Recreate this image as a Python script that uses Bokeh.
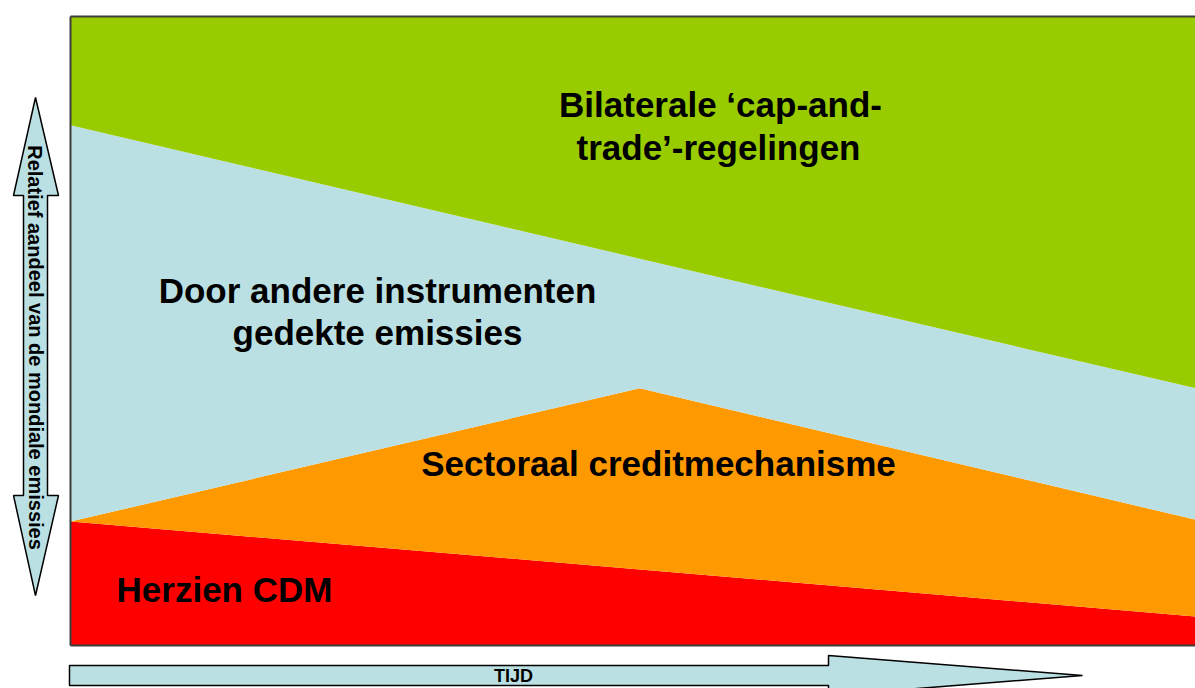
from bokeh.plotting import figure
from bokeh.models import Range1d, ColumnDataSource
from bokeh.core.properties import value
from bokeh.embed import file_html
from bokeh.resources import INLINE

# ---- data (relative share of global emissions over time, 0..1) ----
time = [0.0, 0.506, 1.0]
herzien_cdm = [0.197, 0.121, 0.046]
sectoraal = [0.0, 0.288, 0.154]
andere = [0.630, 0.206, 0.209]
bilaterale = [0.173, 0.385, 0.591]

layer_names = ["herzien_cdm", "sectoraal", "andere", "bilaterale"]
layer_colors = ["#FF0000", "#FF9900", "#BBE0E3", "#99CC00"]

labels = [
    "Bilaterale \u2018cap-and-", "trade\u2019-regelingen",
    "Door andere instrumenten", "gedekte emissies",
    "Sectoraal creditmechanisme",
    "Herzien CDM",
]
axis_y_label = "Relatief aandeel van de mondiale emissies"
axis_x_label = "TIJD"

# ---- layout (page pixels) ----
W, H = 1195, 688
M = 0
FRAME_L, FRAME_R, FRAME_T, FRAME_B = 70, 1195, 16, 645
SX = FRAME_R - FRAME_L
SY = FRAME_B - FRAME_T


def fx(px):
    return (px - FRAME_L) / SX


def fy(py):
    return (FRAME_B - py) / SY


p = figure(width=W, height=H, output_backend="svg", toolbar_location=None,
           x_range=Range1d(fx(M), fx(M + W)), y_range=Range1d(fy(M + H), fy(M)),
           x_axis_location=None, y_axis_location=None, min_border=0,
           background_fill_color="white", border_fill_color="white")
p.outline_line_color = None
p.grid.visible = False

src = ColumnDataSource(dict(time=time, herzien_cdm=herzien_cdm, sectoraal=sectoraal,
                            andere=andere, bilaterale=bilaterale))
p.varea_stack(stackers=layer_names, x="time", color=layer_colors, source=src)

# frame border (left, top, bottom)
p.multi_line(xs=[[0, 0], [0, 1], [0, 1]], ys=[[0, 1], [1, 1], [0, 0]],
             line_color="#3c3c3c", line_width=2)

# left double arrow
la = [(35, 97), (58, 195), (47, 195), (47, 495), (58, 495), (35, 595),
      (13, 495), (23, 495), (23, 195), (13, 195)]
p.patch([fx(a) for a, b in la], [fy(b) for a, b in la],
        fill_color="#BBE0E3", line_color="black", line_width=1.5)

# bottom arrow
ba = [(69, 665), (828, 665), (828, 655), (1082, 675), (828, 695), (828, 685), (69, 685)]
p.patch([fx(a) for a, b in ba], [fy(b) for a, b in ba],
        fill_color="#BBE0E3", line_color="black", line_width=1.5)

font = value("Liberation Sans")
lab_x = [720, 718, 377, 377, 658, 224]
lab_y = [104, 147, 290, 332, 463, 589]
p.text(x=[fx(v) for v in lab_x], y=[fy(v) for v in lab_y], text=labels,
       text_font=font, text_font_style="bold", text_font_size="35px",
       text_align="center", text_baseline="middle", text_color="black")

p.text(x=[fx(35)], y=[fy(347)], text=[axis_y_label], angle=-1.5707963,
       text_font=font, text_font_style="bold", text_font_size="20px",
       text_align="center", text_baseline="middle", text_color="black")

p.text(x=[fx(513)], y=[fy(675)], text=[axis_x_label],
       text_font=font, text_font_style="bold", text_font_size="18px",
       text_align="center", text_baseline="middle", text_color="black")

open("out.html", "w").write(file_html(p, INLINE))
